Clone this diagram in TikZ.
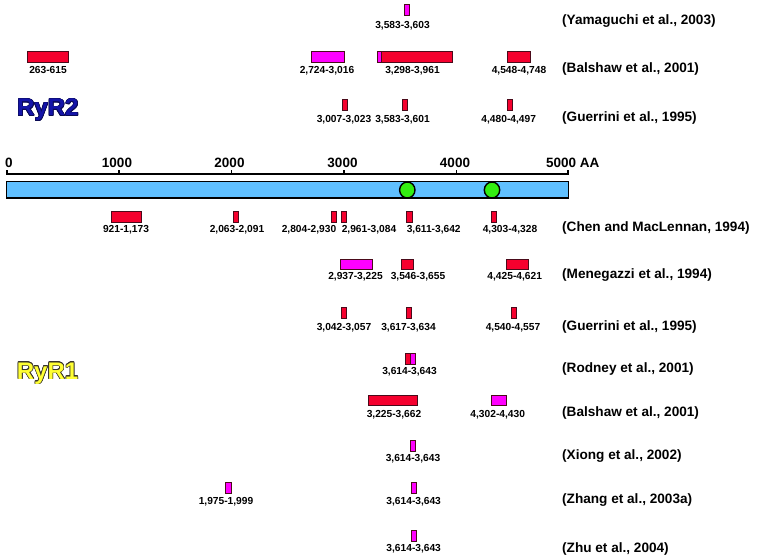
\documentclass[tikz,border=0pt]{standalone}
\usepackage{fontspec}
\setmainfont{Liberation Sans}
\usepackage[copies]{contour}
\contourlength{0.6pt}
\definecolor{segred}{HTML}{F5002E}
\definecolor{segmag}{HTML}{FF00FF}
\definecolor{segedge}{HTML}{4A0A1A}
\definecolor{barblue}{HTML}{60C0FF}
\definecolor{dotgreen}{HTML}{33EE11}
\definecolor{ryrtwo}{HTML}{1414A8}
\definecolor{ryrone}{HTML}{FFFF33}
\tikzset{
  seg/.style={draw=segedge, line width=0.8pt},
  redseg/.style={seg, fill=segred},
  magseg/.style={seg, fill=segmag},
  lab/.style={font=\bfseries\fontsize{10.2}{12}\selectfont, inner sep=0pt, anchor=base},
  cite/.style={font=\bfseries\fontsize{13.6}{16}\selectfont, inner sep=0pt, anchor=base west},
  ticklab/.style={font=\bfseries\fontsize{13.5}{16}\selectfont, inner sep=0pt, anchor=base},
  bigname/.style={font=\bfseries\fontsize{24}{28}\selectfont, inner sep=0pt, anchor=base west},
}
\begin{document}
\begin{tikzpicture}[x={(1pt,0)}, y={(0,-1pt)}]
\useasboundingbox[fill=white] (0,0) rectangle (757,559);

% ---------- axis ----------
\draw[line width=2pt] (6,174) -- (569,174);
\foreach \t/\x in {0/7,1/119,2/231.5,3/344,4/456.5,5/568}
  \draw[line width=1.6pt] (\x,170) -- (\x,175);
\node[ticklab, anchor=base west] (t0) at (5,167.3) {0};
\node[ticklab] (t1) at (117,167.3) {1000};
\node[ticklab] (t2) at (229.5,167.3) {2000};
\node[ticklab] (t3) at (342.5,167.3) {3000};
\node[ticklab] (t4) at (455,167.3) {4000};
\node[ticklab, anchor=base west] (t5) at (546,167.3) {5000 AA};

% ---------- bar ----------
\draw[line width=1.8pt, fill=barblue] (6.5,181.5) rectangle (568.5,198);
\draw[line width=1.4pt, fill=dotgreen] (407.3,190) ellipse (7.7 and 8);
\draw[line width=1.4pt, fill=dotgreen] (492,190) ellipse (7.7 and 8);

% ---------- RyR2 ----------
\node[bigname, text=ryrtwo] (ryr2) at (17,116) {\contour{ryrtwo!50!black}{RyR2}};
% Yamaguchi
\draw[magseg] (404,4) rectangle (409.3,15);
\node[lab] (a1) at (402.5,28.7) {3,583-3,603};
\node[cite] (c1) at (562,24.9) {(Yamaguchi et al., 2003)};
% Balshaw
\draw[redseg] (27.3,51) rectangle (68,62);
\node[lab] (b1) at (48,73.7) {263-615};
\draw[magseg] (311,51) rectangle (344.7,62);
\node[lab] (b2) at (327,73.7) {2,724-3,016};
\draw[magseg] (377.3,51) rectangle (381.7,62);
\draw[redseg] (381.7,51) rectangle (452.7,62);
\node[lab] (b3) at (412.5,73.7) {3,298-3,961};
\draw[redseg] (507.3,51) rectangle (530.3,62);
\node[lab] (b4) at (519,73.7) {4,548-4,748};
\node[cite] (c2) at (562,72.9) {(Balshaw et al., 2001)};
% Guerrini
\draw[redseg] (342.3,99) rectangle (347.7,110);
\node[lab] (g1) at (344,122.7) {3,007-3,023};
\draw[redseg] (402.3,99) rectangle (407.3,110);
\node[lab] (g2) at (402.5,122.7) {3,583-3,601};
\draw[redseg] (507.3,99) rectangle (512.7,110);
\node[lab] (g3) at (508.7,122.7) {4,480-4,497};
\node[cite] (c3) at (562,121.9) {(Guerrini et al., 1995)};

% ---------- RyR1 ----------
\node[bigname, text=ryrone] (ryr1) at (16.7,379) {\contour{black!80!olive}{RyR1}};
% Chen
\draw[redseg] (111.5,211) rectangle (141,222);
\node[lab] (d1) at (126,232.7) {921-1,173};
\draw[redseg] (233.5,211) rectangle (238.5,222);
\node[lab] (d2) at (237,232.7) {2,063-2,091};
\draw[redseg] (331.4,211) rectangle (336.8,222);
\node[lab] (d3) at (309,232.7) {2,804-2,930};
\draw[redseg] (341.7,211) rectangle (346.7,222);
\node[lab] (d4) at (369,232.7) {2,961-3,084};
\draw[redseg] (406.8,211) rectangle (412.1,222);
\node[lab] (d5) at (433.7,232.7) {3,611-3,642};
\draw[redseg] (491.7,211) rectangle (496.3,222);
\node[lab] (d6) at (510,232.7) {4,303-4,328};
\node[cite] (c4) at (562,231.9) {(Chen and MacLennan, 1994)};
% Menegazzi
\draw[magseg] (340.7,259) rectangle (372.7,269.3);
\node[lab] (e1) at (355.5,279.7) {2,937-3,225};
\draw[redseg] (401.3,259) rectangle (413.7,269.3);
\node[lab] (e2) at (418,279.7) {3,546-3,655};
\draw[redseg] (506.7,259) rectangle (528.7,269.3);
\node[lab] (e3) at (514.7,279.7) {4,425-4,621};
\node[cite] (c5) at (562,278.9) {(Menegazzi et al., 1994)};
% Guerrini
\draw[redseg] (341.7,307.3) rectangle (346.7,318.3);
\node[lab] (f1) at (344,330.4) {3,042-3,057};
\draw[redseg] (406,307.3) rectangle (411.3,318.3);
\node[lab] (f2) at (408.5,330.4) {3,617-3,634};
\draw[redseg] (511.3,307.3) rectangle (516.7,318.3);
\node[lab] (f3) at (513,330.4) {4,540-4,557};
\node[cite] (c6) at (562,330.9) {(Guerrini et al., 1995)};
% Rodney
\draw[redseg] (405.3,353.3) rectangle (410.7,364.3);
\draw[magseg] (410.7,353.3) rectangle (415.7,364.3);
\node[lab] (h1) at (409.5,374.4) {3,614-3,643};
\node[cite] (c7) at (562,372.9) {(Rodney et al., 2001)};
% Balshaw
\draw[redseg] (368.3,395) rectangle (417.3,405.7);
\node[lab] (i1) at (394,417) {3,225-3,662};
\draw[magseg] (491,395) rectangle (506,405.7);
\node[lab] (i2) at (497.7,417) {4,302-4,430};
\node[cite] (c8) at (562,416.9) {(Balshaw et al., 2001)};
% Xiong
\draw[magseg] (410.3,440.7) rectangle (415.7,451);
\node[lab] (j1) at (413,461.4) {3,614-3,643};
\node[cite] (c9) at (562,459.9) {(Xiong et al., 2002)};
% Zhang
\draw[magseg] (225.3,482.7) rectangle (231,493.7);
\node[lab] (k1) at (226,504.7) {1,975-1,999};
\draw[magseg] (411,482.7) rectangle (416.7,493.7);
\node[lab] (k2) at (413.7,504.7) {3,614-3,643};
\node[cite] (c10) at (562,503.9) {(Zhang et al., 2003a)};
% Zhu
\draw[magseg] (411,530.7) rectangle (416.7,541.7);
\node[lab] (m1) at (413.7,551.7) {3,614-3,643};
\node[cite] (c11) at (562,552.9) {(Zhu et al., 2004)};
\end{tikzpicture}
\end{document}
